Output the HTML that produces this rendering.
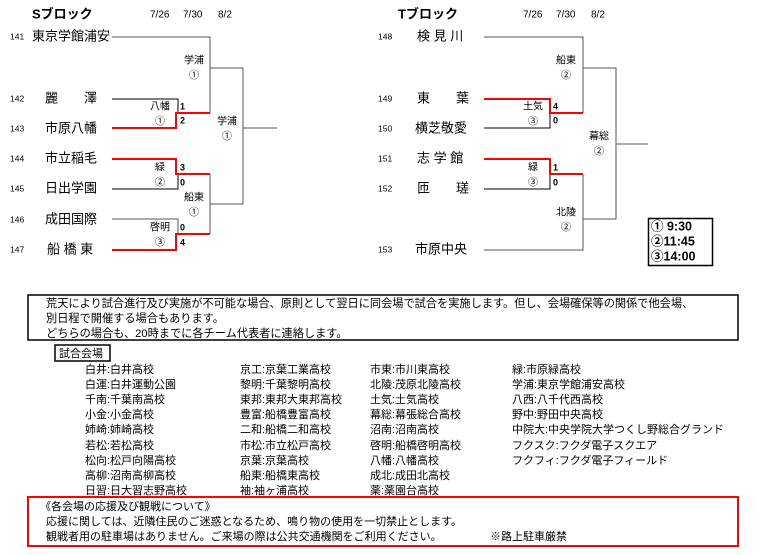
<!DOCTYPE html>
<html><head><meta charset="utf-8"><style>
html,body{margin:0;padding:0;background:#fff;}
svg{display:block;font-family:"Liberation Sans","Noto Sans CJK JP",sans-serif;}
</style></head><body>
<svg width="758" height="555" viewBox="0 0 758 555" xmlns="http://www.w3.org/2000/svg">
<g dominant-baseline="middle" fill="#000">
<text x="32" y="15" font-size="13" font-weight="bold">Sブロック</text>
<text x="150" y="15" font-size="10">7/26</text><text x="183" y="15" font-size="10">7/30</text><text x="218" y="15" font-size="10">8/2</text>
<text x="398" y="15" font-size="13" font-weight="bold">Tブロック</text>
<text x="523" y="15" font-size="10">7/26</text><text x="556" y="15" font-size="10">7/30</text><text x="591" y="15" font-size="10">8/2</text>
<g font-size="8.5">
<text x="10" y="37">141</text><text x="10" y="99">142</text><text x="10" y="129">143</text><text x="10" y="159">144</text><text x="10" y="189">145</text><text x="10" y="220">146</text><text x="10" y="250">147</text>
<text x="378" y="37">148</text><text x="378" y="99">149</text><text x="378" y="129">150</text><text x="378" y="159">151</text><text x="378" y="189">152</text><text x="378" y="250">153</text>
</g>
<g font-size="13">
<text x="32" y="37">東京学館浦安</text>
<text x="45" y="99">麗　　澤</text><text x="45" y="129">市原八幡</text><text x="45" y="159">市立稲毛</text><text x="45" y="189">日出学園</text><text x="45" y="220">成田国際</text><text x="47" y="250">船 橋 東</text>
<text x="417" y="37">検 見 川</text><text x="417" y="99">東　　葉</text><text x="415" y="129">横芝敬愛</text><text x="417" y="159">志 学 館</text><text x="417" y="189">匝　　瑳</text><text x="415" y="250">市原中央</text>
</g>
<g font-size="10" text-anchor="middle">
<text x="194" y="61">学浦</text><text x="194" y="76">①</text>
<text x="160" y="107">八幡</text><text x="160" y="122">①</text>
<text x="227" y="122">学浦</text><text x="227" y="137">①</text>
<text x="160" y="168">緑</text><text x="160" y="183">②</text>
<text x="194" y="198">船東</text><text x="194" y="213">①</text>
<text x="160" y="228">啓明</text><text x="160" y="243">③</text>
<text x="566" y="61">船東</text><text x="566" y="76">②</text>
<text x="533" y="107">土気</text><text x="533" y="122">③</text>
<text x="599" y="137">幕総</text><text x="599" y="152">②</text>
<text x="533" y="168">緑</text><text x="533" y="183">③</text>
<text x="566" y="213">北陵</text><text x="566" y="228">②</text>
</g>
<g font-size="9" font-weight="bold">
<text x="180" y="107">1</text><text x="180" y="121">2</text><text x="180" y="168">3</text><text x="180" y="183">0</text><text x="180" y="228">0</text><text x="180" y="243">4</text>
<text x="553" y="107">4</text><text x="553" y="121">0</text><text x="553" y="168">1</text><text x="553" y="183">0</text>
</g>
</g>
<g fill="none" stroke="#555" stroke-width="1">
<path d="M112 37H210V113M210 68H243V204H210M243 128H277"/>
<path d="M112 99H178V113" stroke="#000"/>
<path d="M112 189H178V174" stroke="#000"/>
<path d="M112 219H178V234"/>
<path d="M210 174V234"/>
<path d="M484 37H583V113M583 68H616V219H583M616 144H648"/>
<path d="M484 128H550V113" stroke="#000"/>
<path d="M484 189H550V174" stroke="#000"/>
<path d="M583 174V250H484"/>
</g>
<g fill="none" stroke="#f00" stroke-width="2">
<path d="M112 128H176V113H210"/>
<path d="M112 159H176V174H210"/>
<path d="M112 250H176V234H210"/>
<path d="M484 99H550V113H583"/>
<path d="M484 159H550V174H583"/>
</g>
<rect x="648.5" y="218.5" width="64" height="47" fill="none" stroke="#000" stroke-width="1.5"/>
<g font-size="12.5" font-weight="bold" dominant-baseline="middle">
<text x="651" y="227">①  9:30</text><text x="651" y="242">②11:45</text><text x="651" y="257">③14:00</text>
</g>
<rect x="28" y="295" width="710" height="45" fill="none" stroke="#000" stroke-width="1.5"/>
<g font-size="11.2" dominant-baseline="middle">
<text x="46" y="304">荒天により試合進行及び実施が不可能な場合、原則として翌日に同会場で試合を実施します。但し、会場確保等の関係で他会場、</text>
<text x="46" y="319">別日程で開催する場合もあります。</text>
<text x="46" y="334">どちらの場合も、20時までに各チーム代表者に連絡します。</text>
</g>
<rect x="55" y="345" width="55" height="16" fill="none" stroke="#000" stroke-width="1.5"/>
<text x="59" y="354" font-size="11" dominant-baseline="middle">試合会場</text>
<g font-size="11" dominant-baseline="middle">
<text x="85" y="370">白井:白井高校</text><text x="85" y="385">白運:白井運動公園</text><text x="85" y="400">千南:千葉南高校</text><text x="85" y="415">小金:小金高校</text><text x="85" y="430">姉崎:姉崎高校</text><text x="85" y="446">若松:若松高校</text><text x="85" y="461">松向:松戸向陽高校</text><text x="85" y="476">高柳:沼南高柳高校</text><text x="85" y="491">日習:日大習志野高校</text>
<text x="240" y="370">京工:京葉工業高校</text><text x="240" y="385">黎明:千葉黎明高校</text><text x="240" y="400">東邦:東邦大東邦高校</text><text x="240" y="415">豊富:船橋豊富高校</text><text x="240" y="430">二和:船橋二和高校</text><text x="240" y="446">市松:市立松戸高校</text><text x="240" y="461">京葉:京葉高校</text><text x="240" y="476">船東:船橋東高校</text><text x="240" y="491">袖:袖ヶ浦高校</text>
<text x="370" y="370">市東:市川東高校</text><text x="370" y="385">北陵:茂原北陵高校</text><text x="370" y="400">土気:土気高校</text><text x="370" y="415">幕総:幕張総合高校</text><text x="370" y="430">沼南:沼南高校</text><text x="370" y="446">啓明:船橋啓明高校</text><text x="370" y="461">八幡:八幡高校</text><text x="370" y="476">成北:成田北高校</text><text x="370" y="491">薬:薬園台高校</text>
<text x="512" y="370">緑:市原緑高校</text><text x="512" y="385">学浦:東京学館浦安高校</text><text x="512" y="400">八西:八千代西高校</text><text x="512" y="415">野中:野田中央高校</text><text x="512" y="430">中院大:中央学院大学つくし野総合グランド</text><text x="512" y="446">フクスク:フクダ電子スクエア</text><text x="512" y="461">フクフィ:フクダ電子フィールド</text>
</g>
<rect x="28" y="497" width="710" height="49" fill="none" stroke="#f00" stroke-width="2"/>
<g font-size="11" dominant-baseline="middle">
<text x="40" y="507">《各会場の応援及び観戦について》</text>
<text x="46" y="522">応援に関しては、近隣住民のご迷惑となるため、鳴り物の使用を一切禁止とします。</text>
<text x="46" y="537">観戦者用の駐車場はありません。ご来場の際は公共交通機関をご利用ください。</text>
<text x="490" y="537">※路上駐車厳禁</text>
</g>
</svg>
</body></html>
